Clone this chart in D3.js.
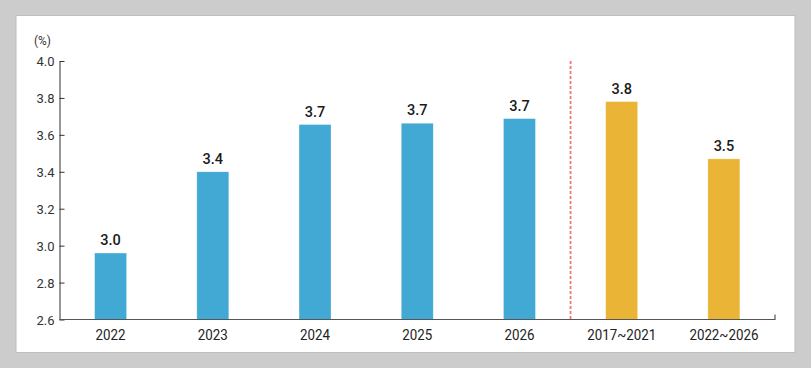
<!DOCTYPE html>
<html><head><meta charset="utf-8">
<script src="https://cdn.jsdelivr.net/npm/d3@7"></script>
<style>
html,body{margin:0;padding:0;background:#cccccc;}
svg{display:block;}
text{font-family:Roboto,"Liberation Sans",Arial,sans-serif;}
</style></head>
<body>
<svg id="chart" width="811" height="368"></svg>
<script>
const categories = ["2022","2023","2024","2025","2026","2017~2021","2022~2026"];
const values = [2.96, 3.40, 3.656, 3.663, 3.688, 3.78, 3.47];
const groups = ["forecast","forecast","forecast","forecast","forecast","average","average"];
const yTicks = [2.6, 2.8, 3.0, 3.2, 3.4, 3.6, 3.8, 4.0];
const unitLabel = "(%)";
const colors = {forecast:"#42a9d4", average:"#eab536"};

(function(){
const svg = d3.select("#chart");
svg.append("rect").attr("x",0).attr("y",0).attr("width",811).attr("height",368).attr("fill","#cccccc");
svg.append("rect").attr("x",16).attr("y",15.5).attr("width",779).attr("height",337)
  .attr("fill","#ffffff").attr("stroke","#bdbdbd").attr("stroke-width",1);

const mL = 59.5, mR = 775, mT = 61, mB = 319.5;
const x = d3.scaleBand().domain(categories).range([mL, mR]).paddingInner(0.687).paddingOuter(0.3435);
const y = d3.scaleLinear().domain([2.6, 4.0]).range([mB, mT]);

function narrow(sel, f){
  sel.each(function(){
    const w = this.getComputedTextLength();
    d3.select(this).attr("textLength", w*f).attr("lengthAdjust","spacingAndGlyphs");
  });
}

// bars
svg.selectAll("rect.bar").data(categories).enter().append("rect")
  .attr("class","bar")
  .attr("x", d => x(d))
  .attr("width", x.bandwidth())
  .attr("y", (d,i) => y(values[i]))
  .attr("height", (d,i) => y(2.6) - y(values[i]))
  .attr("fill", (d,i) => colors[groups[i]])
  .attr("stroke", "#ffffff").attr("stroke-opacity",0.5).attr("stroke-width",0.6);

// value labels
svg.selectAll("text.val").data(categories).enter().append("text")
  .attr("class","val")
  .attr("x", d => x(d) + x.bandwidth()/2)
  .attr("y", (d,i) => y(values[i]) - 8)
  .attr("text-anchor","middle")
  .attr("font-size","14.5px").attr("font-weight","500").attr("fill","#1a1a1a")
  .text((d,i) => d3.format(".1f")(values[i]));

// y axis
const yAxis = d3.axisRight(y).tickValues(yTicks).tickFormat(d3.format(".1f")).tickSize(5).tickSizeOuter(0);
const gy = svg.append("g").attr("transform",`translate(${mL},0)`).call(yAxis);
gy.select(".domain").attr("stroke","#333");
gy.selectAll(".tick line").attr("stroke","#333");
gy.selectAll(".tick text").attr("x",-5).attr("text-anchor","end")
  .attr("font-size","13px").attr("fill","#333").attr("dy","0.35em");

// x axis
const xAxis = d3.axisBottom(x).tickSize(0).tickSizeOuter(0);
const gx = svg.append("g").attr("transform",`translate(0,${mB})`).call(xAxis);
gx.select(".domain").remove();
gx.append("path").attr("d",`M${mL},0H${mR}V-5`).attr("fill","none").attr("stroke","#555").attr("stroke-width",1.2);
gx.selectAll(".tick text").attr("y",20).attr("dy","0").attr("font-size","15.5px").attr("fill","#222")
  .call(narrow, 0.86);

// divider
const divX = x(categories[5]) - x.step()*x.paddingInner()/2;
svg.append("line").attr("x1",divX).attr("x2",divX).attr("y1",mT).attr("y2",mB)
  .attr("stroke","#f27878").attr("stroke-width",1.8).attr("stroke-dasharray","3,2");

// unit
svg.append("text").attr("x",34).attr("y",44.5).attr("font-size","13.5px").attr("fill","#333").text(unitLabel)
  .call(narrow, 0.88);
})();
</script>
</body></html>
